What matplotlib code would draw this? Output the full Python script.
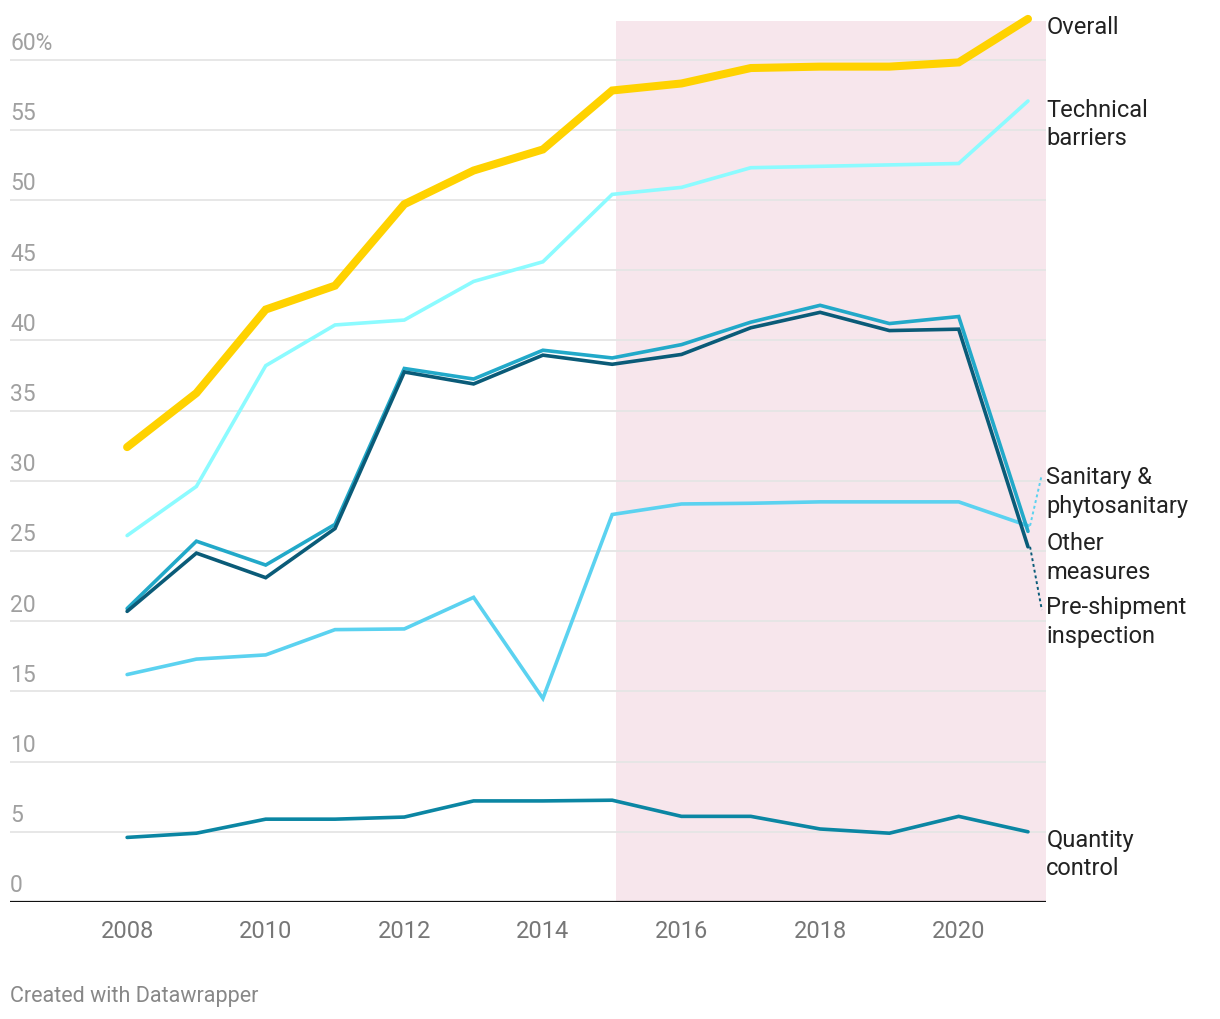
"""
Share of trade covered by non-tariff measures, 2008-2021
"""
import numpy as np
import matplotlib.pyplot as plt

plt.rcParams['font.family'] = ['Roboto', 'DejaVu Sans']

years = np.arange(2008, 2022)

overall = [32.4, 36.25, 42.2, 43.9, 49.7, 52.1, 53.6, 57.8, 58.3, 59.4, 59.5, 59.5, 59.8, 62.9]
technical = [26.1, 29.6, 38.2, 41.1, 41.45, 44.2, 45.6, 50.4, 50.9, 52.3, 52.4, 52.5, 52.6, 57.05]
sanitary = [16.2, 17.3, 17.6, 19.4, 19.45, 21.7, 14.5, 27.6, 28.35, 28.4, 28.5, 28.5, 28.5, 26.8]
other = [20.9, 25.7, 24.0, 26.9, 38.0, 37.25, 39.3, 38.75, 39.7, 41.3, 42.5, 41.2, 41.7, 26.4]
preship = [20.7, 24.85, 23.1, 26.6, 37.75, 36.9, 38.95, 38.3, 39.0, 40.9, 42.0, 40.7, 40.8, 25.3]
quantity = [4.6, 4.9, 5.9, 5.9, 6.05, 7.2, 7.2, 7.25, 6.1, 6.1, 5.2, 4.9, 6.1, 5.0]

# name, values, colour, width, label y (first line), connector?
series = [
    ('Quantity\ncontrol', quantity, '#0b86a3', 2.6, 4.45, False),
    ('Sanitary &\nphytosanitary', sanitary, '#5bd2f0', 2.6, 30.25, True),
    ('Technical\nbarriers', technical, '#8cfbff', 2.6, 56.45, False),
    ('Other\nmeasures', other, '#22a9c9', 2.6, 25.55, False),
    ('Pre-shipment\ninspection', preship, '#0a5b78', 2.6, 21.0, True),
    ('Overall', overall, '#ffd200', 5.8, 62.3, False),
]

yticks = [0, 5, 10, 15, 20, 25, 30, 35, 40, 45, 50, 55, 60]

fig = plt.figure(figsize=(12.2, 10.2), dpi=100)
ax = fig.add_axes([10 / 1220, 1 - 903 / 1020, 1036 / 1220, 881 / 1020])
x0, x1 = 2006.31, 2021.26
ax.set_xlim(x0, x1)
ax.set_ylim(0, 62.75)

ax.axvspan(2015.05, x1, color='#f7e6ec', lw=0, zorder=0)

for t in yticks[1:]:
    ax.axhline(t, color='#e5e5e5', lw=1.3, zorder=1)
    ax.text(x0, t + 0.4, str(t) + ('%' if t == 60 else ''), color='#a0a0a0',
            fontsize=16.5, va='bottom', ha='left', zorder=2)
ax.text(x0, 0.4, '0', color='#a0a0a0', fontsize=16.5, va='bottom', ha='left')
ax.axhline(0, color='#111111', lw=1.6, zorder=3)

labels = []
for name, vals, col, lw, ly, conn in series:
    ax.plot(years, vals, color=col, lw=lw, solid_capstyle='round',
            solid_joinstyle='miter', zorder=4, clip_on=False)
    # first line of the label centred on ly
    labels.append(ax.text(x1 + 0.005, ly + 0.85, name, color='#222222', fontsize=17,
                          ha='left', va='top', linespacing=1.3, clip_on=False))
    if conn:
        ax.plot([2021.03, 2021.2], [vals[-1], ly + (0.2 if ly > vals[-1] else -0.2)],
                color=col, lw=1.4, ls=(0, (1.5, 1.5)), zorder=4, clip_on=False)

ax.set_xticks(range(2008, 2021, 2))
ax.tick_params(axis='x', length=0, labelsize=17, labelcolor='#777777', pad=12)
ax.set_yticks([])
for s in ax.spines.values():
    s.set_visible(False)

fig.text(10 / 1220, 1 - 997 / 1020, 'Created with Datawrapper', color='#888888',
         fontsize=15.5, va='center', ha='left')

fig.savefig('out.png', dpi=100, facecolor='white')
